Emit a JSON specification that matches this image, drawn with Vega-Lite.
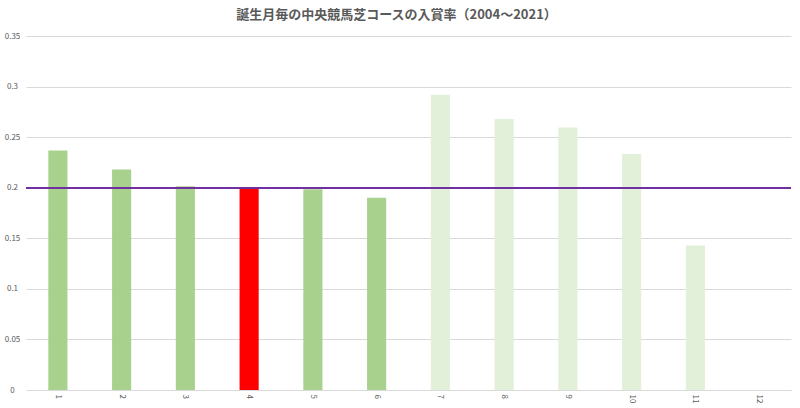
{
  "$schema": "https://vega.github.io/schema/vega-lite/v6.json",
  "autosize": {"type": "none"},
  "width": 765,
  "height": 354,
  "padding": {"left": 26, "top": 36, "right": 9, "bottom": 18},
  "background": "white",
  "title": {
    "text": "誕生月毎の中央競馬芝コースの入賞率（2004～2021）",
    "font": "Noto Sans CJK JP",
    "fontSize": 13,
    "fontWeight": "bold",
    "color": "#595959",
    "anchor": "middle",
    "dx": -12,
    "offset": 10
  },
  "config": {
    "view": {"stroke": null},
    "font": "Noto Sans CJK JP"
  },
  "data": {
    "values": [
      {"month": "1", "rate": 0.2367, "group": "before"},
      {"month": "2", "rate": 0.218, "group": "before"},
      {"month": "3", "rate": 0.2015, "group": "before"},
      {"month": "4", "rate": 0.1988, "group": "birth"},
      {"month": "5", "rate": 0.1985, "group": "before"},
      {"month": "6", "rate": 0.19, "group": "before"},
      {"month": "7", "rate": 0.292, "group": "after"},
      {"month": "8", "rate": 0.268, "group": "after"},
      {"month": "9", "rate": 0.2595, "group": "after"},
      {"month": "10", "rate": 0.2334, "group": "after"},
      {"month": "11", "rate": 0.1428, "group": "after"}
    ]
  },
  "layer": [
    {
      "mark": {"type": "bar"},
      "encoding": {
        "x": {
          "field": "month",
          "type": "nominal",
          "sort": null,
          "scale": {
            "domain": ["1", "2", "3", "4", "5", "6", "7", "8", "9", "10", "11", "12"],
            "paddingInner": 0.7,
            "paddingOuter": 0.35
          },
          "axis": {
            "title": null,
            "labelAngle": 90,
            "labelAlign": "left",
            "labelBaseline": "middle",
            "labelFontSize": 8,
            "labelColor": "#595959",
            "labelPadding": 4,
            "ticks": false,
            "domainColor": "#D9D9D9",
            "domainWidth": 1
          }
        },
        "y": {
          "field": "rate",
          "type": "quantitative",
          "scale": {"domain": [0, 0.35], "nice": false},
          "axis": {
            "title": null,
            "values": [0, 0.05, 0.1, 0.15, 0.2, 0.25, 0.3, 0.35],
            "format": "~g",
            "domain": false,
            "ticks": false,
            "tickSize": 0,
            "labelPadding": 14,
            "labelAlign": "center",
            "labelFontSize": 8,
            "labelColor": "#595959",
            "gridColor": "#D9D9D9",
            "gridWidth": 1
          }
        },
        "color": {
          "field": "group",
          "type": "nominal",
          "scale": {
            "domain": ["before", "birth", "after"],
            "range": ["#A9D18E", "#FF0000", "#E2F0D9"]
          },
          "legend": null
        }
      }
    },
    {
      "mark": {"type": "rule", "color": "#7030A0", "strokeWidth": 1.5},
      "encoding": {
        "y": {"datum": 0.1995}
      }
    }
  ]
}
